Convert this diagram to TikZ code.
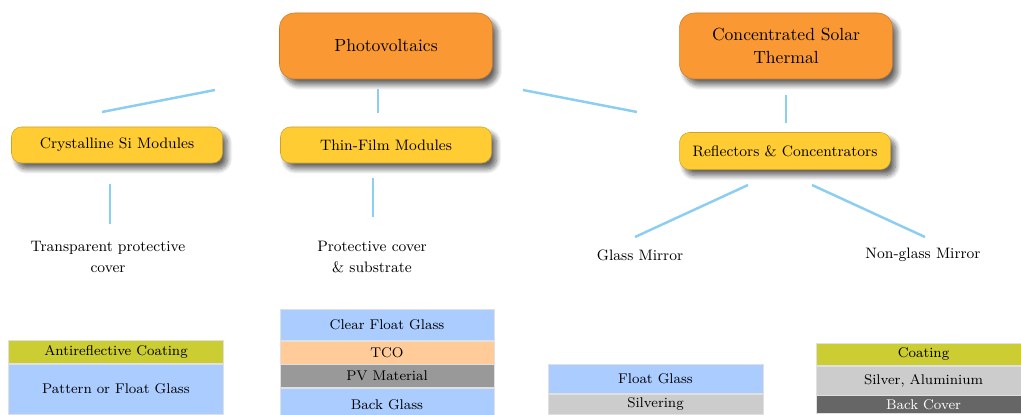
\documentclass[tikz,border=0pt]{standalone}
\usetikzlibrary{positioning,shadows.blur}

\definecolor{pvorange}{RGB}{250,153,51}
\definecolor{subyellow}{RGB}{255,204,51}
\definecolor{linkblue}{RGB}{140,206,242}
\definecolor{glassblue}{RGB}{170,204,255}
\definecolor{coatgreen}{RGB}{204,204,51}
\definecolor{tcopeach}{RGB}{255,204,153}
\definecolor{pvgray}{RGB}{153,153,153}
\definecolor{silvergray}{RGB}{204,204,204}
\definecolor{covergray}{RGB}{102,102,102}

\begin{document}
\begin{tikzpicture}[
  mainbox/.style={draw=pvorange!80!black, line width=0.3pt, fill=pvorange, rounded corners=0.3cm,
    minimum width=4.26cm, minimum height=1.32cm, align=center,
    font=\fontsize{10}{13.5}\selectfont,
    blur shadow={shadow xshift=0.1cm, shadow yshift=-0.12cm, shadow blur radius=0.1cm,
      shadow blur steps=10, shadow opacity=60}},
  subbox/.style={draw=subyellow!80!black, line width=0.3pt, fill=subyellow, rounded corners=0.2cm,
    minimum width=4.22cm, minimum height=0.72cm, font=\fontsize{8.6}{11}\selectfont,
    blur shadow={shadow xshift=0.1cm, shadow yshift=-0.12cm, shadow blur radius=0.1cm,
      shadow blur steps=10, shadow opacity=60}},
  link/.style={draw=linkblue, line width=1.4pt},
  caption/.style={align=center, font=\fontsize{8.6}{11.5}\selectfont},
  layer/.style={draw=black!12, line width=0.4pt, minimum width=4.3cm, inner sep=0pt,
    font=\fontsize{8}{10}\selectfont},
]
\useasboundingbox (0,0) rectangle (20.42,8.28);

\node[mainbox] (pv) at (7.72,7.36) {Photovoltaics};
\node[mainbox] (cst) at (15.72,7.36) {Concentrated Solar\\Thermal};

\node[subbox] (csi) at (2.34,5.38) {Crystalline Si Modules};
\node[subbox] (thin) at (7.72,5.38) {Thin-Film Modules};
\node[subbox, minimum height=0.74cm] (refl) at (15.70,5.26) {Reflectors \& Concentrators};

\coordinate (pvcsiA) at (4.30,6.48);
\coordinate (pvcsiB) at (2.04,6.04);
\coordinate (pvthinA) at (7.56,6.50);
\coordinate (pvthinB) at (7.56,6.02);
\coordinate (pvreflA) at (10.46,6.48);
\coordinate (pvreflB) at (12.74,6.04);
\coordinate (cstreflA) at (15.72,6.38);
\coordinate (cstreflB) at (15.72,5.82);
\coordinate (csidownA) at (2.20,4.60);
\coordinate (csidownB) at (2.20,3.80);
\coordinate (thindownA) at (7.46,4.72);
\coordinate (thindownB) at (7.46,3.94);
\coordinate (reflglA) at (14.96,4.58);
\coordinate (reflglB) at (12.70,3.54);
\coordinate (reflngA) at (16.24,4.58);
\coordinate (reflngB) at (18.50,3.54);

\draw[link] (pvcsiA) -- (pvcsiB);
\draw[link] (pvthinA) -- (pvthinB);
\draw[link] (pvreflA) -- (pvreflB);
\draw[link] (cstreflA) -- (cstreflB);
\draw[link] (csidownA) -- (csidownB);
\draw[link] (thindownA) -- (thindownB);
\draw[link] (reflglA) -- (reflglB);
\draw[link] (reflngA) -- (reflngB);

\node[caption] (transp) at (2.16,3.14) {Transparent protective\\cover};
\node[caption] (protect) at (7.44,3.14) {Protective cover\\\& substrate};
\node[caption] (glass) at (12.80,3.18) {Glass Mirror};
\node[caption] (nonglass) at (18.46,3.18) {Non-glass Mirror};

\node[layer, fill=coatgreen, minimum height=0.46cm, anchor=north] (ar) at (2.32,1.48) {Antireflective Coating};
\node[layer, fill=glassblue, minimum height=1.0cm, below=0pt of ar] (pfg) {Pattern or Float Glass};

\node[layer, fill=glassblue, minimum height=0.62cm, anchor=north, minimum width=4.28cm] (cfg) at (7.74,2.10) {Clear Float Glass};
\node[layer, fill=tcopeach, minimum height=0.46cm, minimum width=4.28cm, below=0pt of cfg] (tco) {TCO};
\node[layer, fill=pvgray, minimum height=0.46cm, minimum width=4.28cm, below=0pt of tco] (pvm) {PV Material};
\node[layer, fill=glassblue, minimum height=0.64cm, minimum width=4.28cm, below=0pt of pvm] (bg) {Back Glass};

\node[layer, fill=glassblue, minimum height=0.58cm, anchor=north] (fg) at (13.11,1.00) {Float Glass};
\node[layer, fill=silvergray, minimum height=0.40cm, below=0pt of fg] (silv) {Silvering};

\node[layer, fill=coatgreen, minimum height=0.44cm, minimum width=4.28cm, anchor=north] (coat) at (18.47,1.42) {Coating};
\node[layer, fill=silvergray, minimum height=0.58cm, minimum width=4.28cm, below=0pt of coat] (silal) {Silver, Aluminium};
\node[layer, fill=covergray, text=white, minimum height=0.36cm, minimum width=4.28cm, below=0pt of silal] (bc) {Back Cover};

\end{tikzpicture}
\end{document}
